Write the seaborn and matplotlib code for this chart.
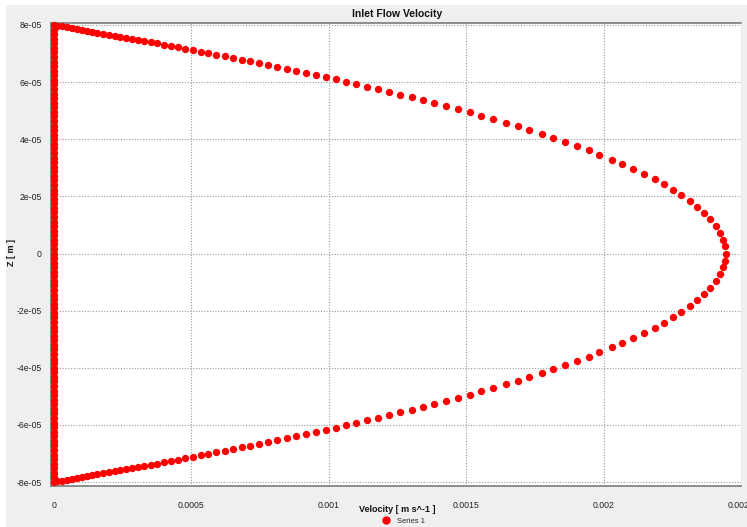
import pandas as pd
import matplotlib
matplotlib.use("Agg")
import matplotlib.pyplot as plt
import seaborn as sns
from matplotlib.lines import Line2D
from matplotlib.patches import Rectangle
from matplotlib.ticker import MultipleLocator, FixedLocator, FixedFormatter

# profile points, z in micrometres, velocity in mm/s
z_upper_um = [79.79, 79.54, 79.23, 78.95, 78.63, 78.35, 78.04, 77.72, 77.37, 77.02,
              76.64, 76.29, 75.94, 75.59, 75.24, 74.85, 74.43, 74.01, 73.59, 73.17,
              72.72, 72.23, 71.74, 71.25, 70.72, 70.23, 69.67, 69.08, 68.48, 67.92,
              67.33, 66.69, 66.02, 65.37, 64.68, 63.99, 63.25, 62.49, 61.75, 60.95,
              60.16, 59.31, 58.45, 57.54, 56.63, 55.66, 54.69, 53.72, 52.67, 51.64,
              50.52, 49.38, 48.23, 47.08, 45.78, 44.50, 43.28, 41.86, 40.51, 39.07,
              37.63, 36.08, 34.66, 32.91, 31.40, 29.65, 27.90, 25.91, 24.26, 22.30,
              20.55, 18.45, 16.45, 14.35, 12.01, 9.70, 7.35, 4.90, 2.56, 0.0]
vel_upper_mm = [0.0120, 0.0280, 0.0462, 0.0644, 0.0825, 0.1007, 0.1189, 0.1371, 0.1582, 0.1793,
                0.2011, 0.2218, 0.2418, 0.2618, 0.2825, 0.3044, 0.3273, 0.3516, 0.3756, 0.4000,
                0.4244, 0.4509, 0.4782, 0.5055, 0.5335, 0.5611, 0.5909, 0.6218, 0.6527, 0.6825,
                0.7127, 0.7455, 0.7793, 0.8120, 0.8462, 0.8800, 0.9164, 0.9527, 0.9880, 1.0255,
                1.0618, 1.1007, 1.1393, 1.1793, 1.2193, 1.2607, 1.3018, 1.3418, 1.3844, 1.4255,
                1.4691, 1.5127, 1.5553, 1.5974, 1.6436, 1.6873, 1.7284, 1.7745, 1.8171, 1.8607,
                1.9029, 1.9465, 1.9849, 2.0301, 2.0671, 2.1078, 2.1464, 2.1873, 2.2188, 2.2537,
                2.2823, 2.3136, 2.3402, 2.3649, 2.3886, 2.4077, 2.4231, 2.4343, 2.4411, 2.4436]

z_lower_um = [-79.79, -79.54, -79.23, -78.95, -78.63, -78.35, -78.04, -77.72, -77.37, -77.02,
              -76.64, -76.29, -75.94, -75.59, -75.24, -74.85, -74.43, -74.01, -73.59, -73.17,
              -72.72, -72.23, -71.74, -71.25, -70.72, -70.23, -69.67, -69.08, -68.48, -67.92,
              -67.33, -66.69, -66.02, -65.37, -64.68, -63.99, -63.25, -62.49, -61.75, -60.95,
              -60.16, -59.31, -58.45, -57.54, -56.63, -55.66, -54.69, -53.72, -52.67, -51.64,
              -50.52, -49.38, -48.23, -47.08, -45.78, -44.50, -43.28, -41.86, -40.51, -39.07,
              -37.63, -36.08, -34.66, -32.91, -31.40, -29.65, -27.90, -25.91, -24.26, -22.30,
              -20.55, -18.45, -16.45, -14.35, -12.01, -9.70, -7.35, -4.90, -2.56]
vel_lower_mm = [0.0120, 0.0280, 0.0462, 0.0644, 0.0825, 0.1007, 0.1189, 0.1371, 0.1582, 0.1793,
                0.2011, 0.2218, 0.2418, 0.2618, 0.2825, 0.3044, 0.3273, 0.3516, 0.3756, 0.4000,
                0.4244, 0.4509, 0.4782, 0.5055, 0.5335, 0.5611, 0.5909, 0.6218, 0.6527, 0.6825,
                0.7127, 0.7455, 0.7793, 0.8120, 0.8462, 0.8800, 0.9164, 0.9527, 0.9880, 1.0255,
                1.0618, 1.1007, 1.1393, 1.1793, 1.2193, 1.2607, 1.3018, 1.3418, 1.3844, 1.4255,
                1.4691, 1.5127, 1.5553, 1.5974, 1.6436, 1.6873, 1.7284, 1.7745, 1.8171, 1.8607,
                1.9029, 1.9465, 1.9849, 2.0301, 2.0671, 2.1078, 2.1464, 2.1873, 2.2188, 2.2537,
                2.2823, 2.3136, 2.3402, 2.3649, 2.3886, 2.4077, 2.4231, 2.4343, 2.4411]

# wall points at zero velocity
z_wall_um = [-80.0, -78.4, -76.8, -75.2, -73.6, -72.0, -70.4, -68.8, -67.2, -65.6,
             -64.0, -62.4, -60.8, -59.2, -57.6, -56.0, -54.4, -52.8, -51.2, -49.6,
             -48.0, -46.4, -44.8, -43.2, -41.6, -40.0, -38.4, -36.8, -35.2, -33.6,
             -32.0, -30.4, -28.8, -27.2, -25.6, -24.0, -22.4, -20.8, -19.2, -17.6,
             -16.0, -14.4, -12.8, -11.2, -9.6, -8.0, -6.4, -4.8, -3.2, -1.6,
             0.0, 1.6, 3.2, 4.8, 6.4, 8.0, 9.6, 11.2, 12.8, 14.4,
             16.0, 17.6, 19.2, 20.8, 22.4, 24.0, 25.6, 27.2, 28.8, 30.4,
             32.0, 33.6, 35.2, 36.8, 38.4, 40.0, 41.6, 43.2, 44.8, 46.4,
             48.0, 49.6, 51.2, 52.8, 54.4, 56.0, 57.6, 59.2, 60.8, 62.4,
             64.0, 65.6, 67.2, 68.8, 70.4, 72.0, 73.6, 75.2, 76.8, 78.4, 80.0]
vel_wall_mm = [0.0] * len(z_wall_um)

x_ticks = [0, 0.0005, 0.001, 0.0015, 0.002, 0.0025]
x_tick_labels = ["0", "0.0005", "0.001", "0.0015", "0.002", "0.0025"]
y_ticks = [-8e-05, -6e-05, -4e-05, -2e-05, 0, 2e-05, 4e-05, 6e-05, 8e-05]
y_tick_labels = ["-8e-05", "-6e-05", "-4e-05", "-2e-05", "0", "2e-05", "4e-05", "6e-05", "8e-05"]

# build table in SI units
df = pd.DataFrame({
    "z": pd.Series(z_wall_um + z_upper_um + z_lower_um) * 1e-6,
    "velocity": pd.Series(vel_wall_mm + vel_upper_mm + vel_lower_mm) * 1e-3,
})

sns.set_style("white")
plt.rcParams["font.family"] = ["Liberation Sans", "DejaVu Sans"]

W, H = 747, 527
fig = plt.figure(figsize=(W / 100, H / 100), dpi=100, facecolor="white")
fig.patches.append(Rectangle((6 / W, 0), 1 - 6 / W, 1 - 5 / H, transform=fig.transFigure,
                             facecolor="#efefef", edgecolor="none", zorder=-5))

ax = fig.add_axes([51 / W, 41 / H, 690 / W, 463 / H])
ax.set_facecolor("white")

sns.scatterplot(data=df, x="velocity", y="z", color="#ff0000", s=28, linewidth=0,
                ax=ax, legend=False, clip_on=False, zorder=3)

ax.set_xlim(-1.1e-05, 0.0025)
ax.set_ylim(-8.14e-05, 8.07e-05)

ax.xaxis.set_major_locator(FixedLocator(x_ticks))
ax.xaxis.set_major_formatter(FixedFormatter(x_tick_labels))
ax.yaxis.set_major_locator(FixedLocator(y_ticks))
ax.yaxis.set_major_formatter(FixedFormatter(y_tick_labels))
ax.xaxis.set_minor_locator(MultipleLocator(0.0001))
ax.yaxis.set_minor_locator(MultipleLocator(1e-05))

ax.tick_params(which="both", direction="out", color="#555555", width=0.8, length=3.5,
               labelsize=6.3, labelcolor="#222222")
ax.tick_params(axis="x", which="both", pad=7)
ax.tick_params(axis="y", which="both", pad=3)

ax.grid(True, which="major", linestyle=(0, (1, 1.5)), color="#9a9a9a", linewidth=0.8)

for side in ["left", "bottom", "top"]:
    ax.spines[side].set_visible(True)
    ax.spines[side].set_color("#7a7a7a")
    ax.spines[side].set_linewidth(1.2)
ax.spines["right"].set_visible(False)

ax.set_xlabel("")
ax.set_ylabel("")

fig.text(397 / W, 1 - 14 / H, "Inlet Flow Velocity", ha="center", va="center",
         fontsize=7.5, fontweight="bold", color="#111111")
fig.text(397 / W, 1 - 509 / H, "Velocity [ m s^-1 ]", ha="center", va="center",
         fontsize=6.5, fontweight="bold", color="#111111")
fig.text(12 / W, 1 - 253 / H, "Z [ m ]", ha="center", va="center", rotation=90,
         fontsize=6.5, fontweight="bold", color="#111111")

handle = Line2D([], [], marker="o", color="#ff0000", linestyle="", markersize=5)
fig.legend(handles=[handle], labels=["Series 1"], loc="center",
           bbox_to_anchor=(403 / W, 1 - 521 / H), frameon=False, fontsize=5.5,
           handletextpad=0.8, borderpad=0, handlelength=1.2)

fig.savefig("out.png", dpi=100, facecolor=fig.get_facecolor())
